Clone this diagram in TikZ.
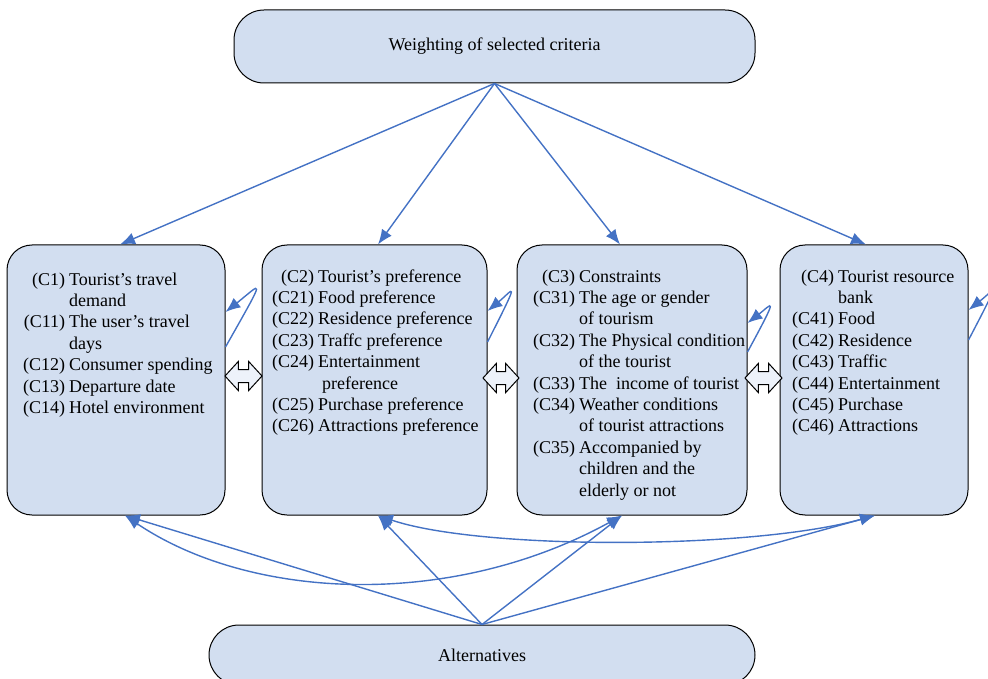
\documentclass[tikz,border=0pt]{standalone}
\usepackage{fontspec}
\setmainfont{Liberation Serif}
\usetikzlibrary{arrows.meta,shapes.arrows}

\definecolor{boxfill}{HTML}{D2DEF0}
\definecolor{linkblue}{HTML}{4472C4}
\definecolor{dblfill}{HTML}{EDF2FA}

\begin{document}
\begin{tikzpicture}[x=1pt,y=-1pt,
  every node/.style={font=\fontsize{18}{21.4}\selectfont},
  headbox/.style={draw, fill=boxfill, line width=1pt, rounded corners=30pt, inner sep=0pt},
  critbox/.style={draw, fill=boxfill, line width=1pt, rounded corners=25pt, minimum height=270pt, inner sep=0pt},
  crittext/.style={anchor=north west, inner sep=0pt},
  dblbox/.style={draw, fill=dblfill, line width=1pt, shape=double arrow, double arrow head extend=8pt,
    double arrow tip angle=95, inner xsep=0pt, inner ysep=6pt},
  link/.style={draw=linkblue, line width=1.4pt, -{Latex[length=15pt,width=12pt]}},
  twolink/.style={draw=linkblue, line width=1.4pt, {Latex[length=15pt,width=12pt]}-{Latex[length=15pt,width=12pt]}}]

\useasboundingbox (0,0) rectangle (988,679);

% weighting box and alternatives box
\node[headbox, minimum width=521pt, minimum height=73pt] (wgt) at (494.5,46.5) {Weighting of selected criteria};
\node[headbox, minimum width=546pt, minimum height=60pt] (alt) at (482,655) {Alternatives};

% the four criteria boxes
\node[critbox, minimum width=218pt] (c1) at (116,380) {};
\node[critbox, minimum width=225pt] (c2) at (374.5,380) {};
\node[critbox, minimum width=230pt] (c3) at (632,380) {};
\node[critbox, minimum width=188pt] (c4) at (874,380) {};

\node[crittext] (t1) at (23,270) {\begin{tabular}{@{}r@{\hspace{4pt}}l@{}}
(C1) & Tourist’s travel\\
 & demand\\
(C11) & The user’s travel\\
 & days\\
(C12) & Consumer spending\\
(C13) & Departure date\\
(C14) & Hotel environment
\end{tabular}};

\node[crittext] (t2) at (272,267) {\begin{tabular}{@{}r@{\hspace{4pt}}l@{}}
(C2) & Tourist’s preference\\
(C21) & Food preference\\
(C22) & Residence preference\\
(C23) & Traffc preference\\
(C24) & Entertainment\\
 & \hspace{4pt}preference\\
(C25) & Purchase preference\\
(C26) & Attractions preference
\end{tabular}};

\node[crittext] (t3) at (533,267) {\begin{tabular}{@{}r@{\hspace{4pt}}l@{}}
(C3) & Constraints\\
(C31) & The age or gender\\
 & of tourism\\
(C32) & The Physical condition\\
 & of the tourist\\
(C33) & The \ income of tourist\\
(C34) & Weather conditions\\
 & of tourist attractions\\
(C35) & Accompanied by\\
 & children and the\\
 & elderly or not
\end{tabular}};

\node[crittext] (t4) at (792,267) {\begin{tabular}{@{}r@{\hspace{4pt}}l@{}}
(C4) & Tourist resource\\
 & bank\\
(C41) & Food\\
(C42) & Residence\\
(C43) & Traffic\\
(C44) & Entertainment\\
(C45) & Purchase\\
(C46) & Attractions
\end{tabular}};

% hollow double arrows between the boxes
\node[dblbox, minimum height=37pt] (d12) at (243.5,376) {};
\node[dblbox, minimum height=36pt] (d23) at (501,378) {};
\node[dblbox, minimum height=37pt] (d34) at (763.5,378) {};

% weights to criteria
\draw[link] (wgt.south) -- ([xshift=4pt]c1.north);
\draw[link] (wgt.south) -- ([xshift=3.5pt]c2.north);
\draw[link] (wgt.south) -- ([xshift=-12pt]c3.north);
\draw[link] (wgt.south) -- ([xshift=-8pt]c4.north);

% alternatives to criteria
\draw[link] (alt.north) -- ([xshift=9pt]c1.south);
\draw[link] (alt.north) -- ([xshift=3.5pt]c2.south);
\draw[link] (alt.north) -- ([xshift=-10pt]c3.south);
\draw[link] (alt.north) -- ([xshift=1pt]c4.south);

\draw[twolink] ([xshift=9pt]c1.south) .. controls (250,600) and (450,610) .. ([xshift=-10pt]c3.south);
\draw[twolink] ([xshift=3.5pt]c2.south) .. controls (480,550) and (750,550) .. ([xshift=1pt]c4.south);

% self loops
\draw[link] ([yshift=33pt]c1.east) .. controls (268,272) and (262,283) .. ([yshift=68pt]c1.east);
\draw[link] ([yshift=38pt]c2.east) .. controls (522,274) and (513,290) .. ([yshift=69pt]c2.east);
\draw[link] ([yshift=28pt]c3.east) .. controls (780,292) and (772,304) .. ([yshift=57pt]c3.east);
\draw[link] ([yshift=40pt]c4.east) .. controls (1002,276) and (994,290) .. ([yshift=70pt]c4.east);

\end{tikzpicture}
\end{document}
